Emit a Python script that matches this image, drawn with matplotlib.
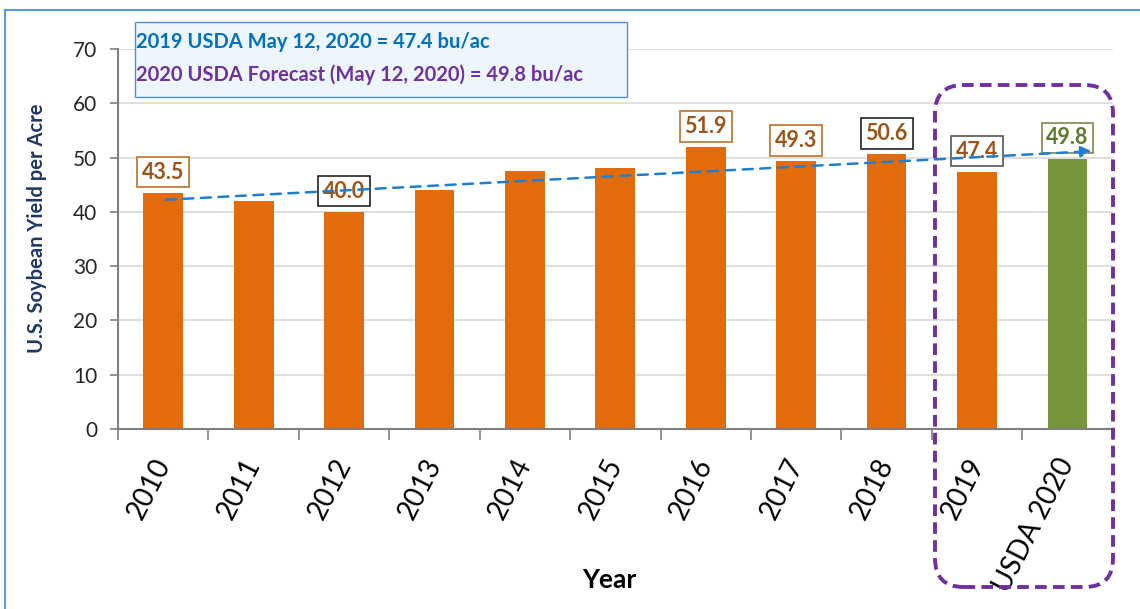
import matplotlib
matplotlib.use('Agg')
import matplotlib.pyplot as plt
from matplotlib.patches import FancyBboxPatch, Rectangle
from matplotlib.lines import Line2D

plt.rcParams['font.family'] = ['Lato', 'DejaVu Sans']

# data
years = ['2010', '2011', '2012', '2013', '2014', '2015', '2016',
         '2017', '2018', '2019', 'USDA 2020']
yields = [43.5, 42.0, 40.0, 44.0, 47.5, 48.0, 51.9, 49.3, 50.6, 47.4, 49.8]
bar_colors = ['#E36C0A'] * 10 + ['#77963C']
# labelled bars: index -> (edge colour, text colour)
labels = {0: ('#C0702A', '#9C5418'), 2: ('#222222', '#9C5418'),
          6: ('#C0702A', '#9C5418'), 7: ('#C0702A', '#9C5418'),
          8: ('#222222', '#9C5418'), 9: ('#555555', '#9C5418'),
          10: ('#7A8A4A', '#5E7A2E')}
trend_x = [0, 10.3]
trend_y = [42.2, 51.2]
info_lines = ['2019 USDA May 12, 2020 = 47.4 bu/ac',
              '2020 USDA Forecast (May 12, 2020) = 49.8 bu/ac']
info_colors = ['#0070C0', '#7030A0']

fig = plt.figure(figsize=(11.4, 6.09), dpi=100)
ax = fig.add_axes([0.1035, 0.2956, 0.8725, 0.624])

x = list(range(len(years)))
ax.bar(x, yields, width=0.44, color=bar_colors, zorder=2)
ax.set_xlim(-0.5, 10.5)
ax.set_ylim(0, 70)
ax.set_yticks(range(0, 71, 10))
ax.tick_params(axis='y', labelsize=15, labelcolor='#262626', color='#808080',
               length=6, width=1.2, pad=9)
ax.yaxis.grid(True, color='#D9D9D9', linewidth=1.2, zorder=0)
ax.set_axisbelow(True)

# x ticks: marks on the boundaries, labels under the bars
ax.set_xticks([i - 0.5 for i in range(len(years) + 1)], minor=True)
ax.set_xticks(x)
ax.set_xticklabels(years, rotation=63, ha='right', rotation_mode='default',
                   fontsize=20)
ax.tick_params(axis='x', which='major', length=0, pad=18)
ax.tick_params(axis='x', which='minor', length=8, width=1.2, color='#808080')
for t in ax.get_xticklabels():
    t.set_transform(t.get_transform() + matplotlib.transforms.ScaledTranslation(
        0.12, 0, fig.dpi_scale_trans))

for s in ['top', 'right']:
    ax.spines[s].set_visible(False)
for s in ['left', 'bottom']:
    ax.spines[s].set_color('#808080')
    ax.spines[s].set_linewidth(1.5)

ax.set_ylabel('U.S. Soybean Yield per Acre', fontsize=14.5, fontweight='bold',
              color='#1F3864')
ax.yaxis.set_label_coords(-0.071, 0.529)
ax.set_xlabel('Year', fontsize=19, fontweight='bold')
ax.xaxis.set_label_coords(0.494, -0.365)

# value boxes
for i, (ec, tc) in labels.items():
    ax.text(x[i], yields[i] + 3.8, f'{yields[i]:.1f}', ha='center', va='center',
            fontsize=15.5, fontweight='bold', color=tc, zorder=5,
            bbox=dict(boxstyle='square,pad=0.22', fc='white', ec=ec, lw=1.2))

# trend arrow
ax.annotate('', xy=(trend_x[1], trend_y[1]), xytext=(trend_x[0], trend_y[0]),
            arrowprops=dict(arrowstyle='-|>', color='#1F7FCC', lw=1.8,
                            ls=(0, (4, 3)), mutation_scale=16), zorder=6)

# info box
fig.patches.append(Rectangle((135 / 1140, 1 - 97 / 609), 492 / 1140, 75 / 609,
                             transform=fig.transFigure, fc='#EEF6FD',
                             ec='#4A90D9', lw=1.0, zorder=3))
fig.text(136 / 1140, 1 - 42 / 609, info_lines[0], color=info_colors[0],
         fontsize=14.5, fontweight='bold', va='center', zorder=4)
fig.text(136 / 1140, 1 - 75 / 609, info_lines[1], color=info_colors[1],
         fontsize=14.5, fontweight='bold', va='center', zorder=4)

# purple highlight around 2019/2020
fig.patches.append(FancyBboxPatch((935 / 1140, 1 - 587 / 609), 178 / 1140,
                                  502 / 609,
                                  boxstyle='round,pad=0,rounding_size=0.025',
                                  transform=fig.transFigure, fc='none',
                                  ec='#7030A0', lw=2.8, ls=(0, (3, 1.6)),
                                  zorder=7, mutation_aspect=1140 / 609))

# outer frame lines
fig.add_artist(Line2D([5 / 1140, 5 / 1140], [0, 1 - 10 / 609],
                      color='#5B9BD5', lw=1.5, transform=fig.transFigure))
fig.add_artist(Line2D([5 / 1140, 1], [1 - 10 / 609, 1 - 10 / 609],
                      color='#5B9BD5', lw=1.5, transform=fig.transFigure))

fig.savefig('out.png', dpi=100)
